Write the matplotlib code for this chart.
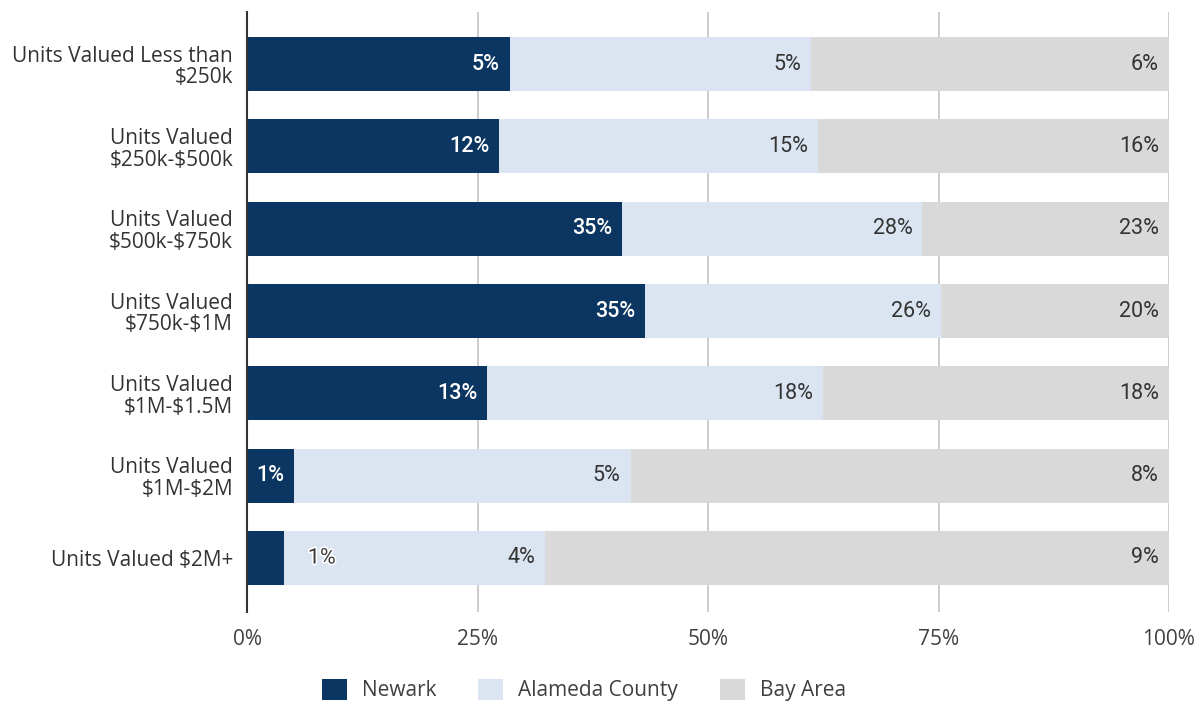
import matplotlib
matplotlib.use("Agg")
import matplotlib.pyplot as plt
from matplotlib.patches import Patch
import matplotlib.patheffects as pe
import numpy as np

categories = [
    "Units Valued Less than\n\\$250k",
    "Units Valued\n\\$250k-\\$500k",
    "Units Valued\n\\$500k-\\$750k",
    "Units Valued\n\\$750k-\\$1M",
    "Units Valued\n\\$1M-\\$1.5M",
    "Units Valued\n\\$1M-\\$2M",
    "Units Valued \\$2M+",
]
series_names = ["Newark", "Alameda County", "Bay Area"]
newark = [4.7, 11.8, 35.0, 35.0, 12.8, 0.7, 0.55]
alameda = [5.4, 14.9, 28.0, 26.0, 17.9, 5.0, 3.9]
bay_area = [6.4, 16.4, 23.0, 20.0, 18.4, 8.0, 9.3]
colors = ["#0b3661", "#dbe5f1", "#d9d9d9"]
tick_labels = ["0%", "25%", "50%", "75%", "100%"]

data = np.array([newark, alameda, bay_area])
shares = data / data.sum(axis=0) * 100

fig = plt.figure(figsize=(12.02, 7.05), dpi=100)
ax = fig.add_axes([247 / 1202, 1 - 612 / 705, 922 / 1202, 600 / 705])

LBL = 15.5
y = np.arange(len(categories))
left = np.zeros(len(categories))
for i, (name, col) in enumerate(zip(series_names, colors)):
    ax.barh(y, shares[i], left=left, height=0.655, color=col, zorder=2, label=name)
    ends = left + shares[i]
    for j in range(len(categories)):
        lbl = f"{round(data[i, j])}%"
        if i == 0 and j == len(categories) - 1:
            # segment too narrow: put the label just past its end
            ax.text(ends[j] + 2.6, y[j], lbl, ha="left", va="center",
                    fontsize=LBL, family="Roboto", color="#3a3a3a", zorder=3,
                    path_effects=[pe.withStroke(linewidth=2.5, foreground="white")])
        elif i == 0:
            ax.text(ends[j] - 1.1, y[j], lbl, ha="right", va="center",
                    fontsize=LBL, family="Roboto", color="white",
                    fontweight="medium", zorder=3)
        else:
            ax.text(ends[j] - 1.1, y[j], lbl, ha="right", va="center",
                    fontsize=LBL, family="Roboto", color="#333333", zorder=3)
    left = ends

ax.set_xlim(0, 100)
ax.set_ylim(6.656, -0.632)
ax.set_xticks([0, 25, 50, 75, 100])
ax.set_xticklabels(tick_labels, family="Open Sans", fontsize=15, color="#404040")
ax.set_yticks(y)
ax.set_yticklabels(categories, family="Open Sans", fontsize=15, color="#333333",
                   linespacing=1.05)
ax.tick_params(axis="y", length=0, pad=10)
ax.tick_params(axis="x", length=0, pad=12)
for s in ["top", "right", "bottom"]:
    ax.spines[s].set_visible(False)
ax.spines["left"].set_color("#333333")
ax.spines["left"].set_linewidth(1.5)
ax.spines["left"].set_zorder(4)
for xv in [25, 50, 75, 100]:
    ax.axvline(xv, color="#c8c8c8", linewidth=1.3, zorder=1)

handles = [Patch(facecolor=c, edgecolor="none") for c in colors]
fig.legend(handles, series_names, loc="center", bbox_to_anchor=(584 / 1202, 1 - 690 / 705),
           ncol=3, frameon=False, prop={"family": "Open Sans", "size": 15},
           handlelength=1.2, handleheight=1.2, handletextpad=0.72, columnspacing=2.0,
           labelcolor="#404040")

fig.savefig("out.png", dpi=100)
